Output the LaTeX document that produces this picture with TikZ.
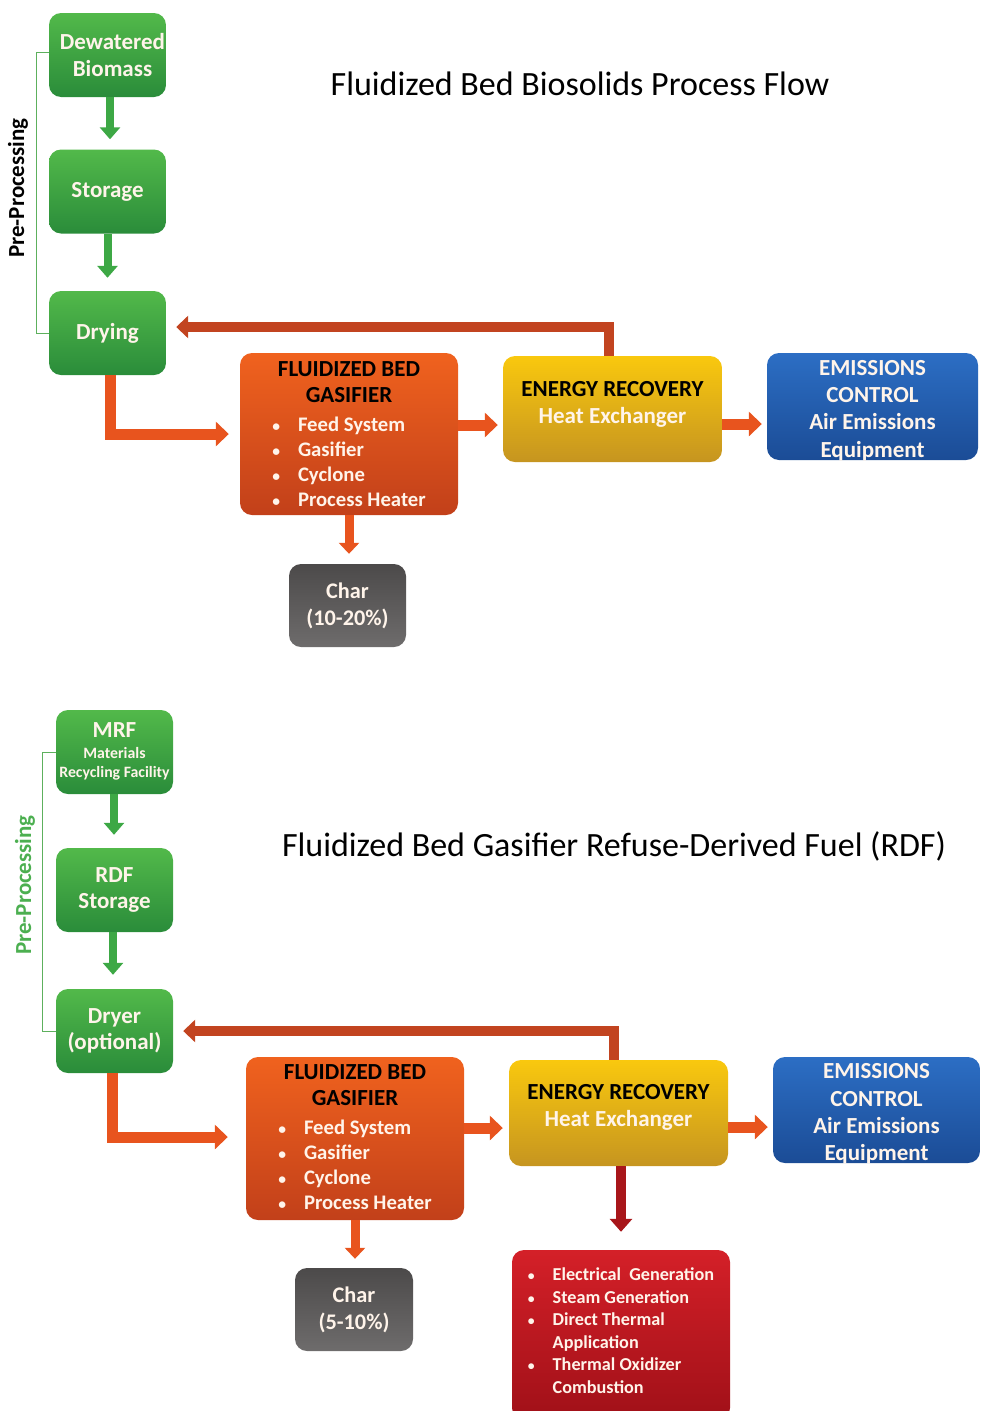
\documentclass[tikz,border=0pt]{standalone}
\usepackage{fontspec}
\setmainfont{Carlito}
\usetikzlibrary{arrows.meta}
\definecolor{gTop}{HTML}{52B94A}
\definecolor{gBot}{HTML}{2A8C3A}
\definecolor{oTop}{HTML}{F0621E}
\definecolor{oBot}{HTML}{C2401A}
\definecolor{yTop}{HTML}{F9C80E}
\definecolor{yBot}{HTML}{C69520}
\definecolor{bTop}{HTML}{2C6EC4}
\definecolor{bBot}{HTML}{1B4C96}
\definecolor{cTop}{HTML}{4C4A4A}
\definecolor{cBot}{HTML}{6E6C6C}
\definecolor{rTop}{HTML}{D42028}
\definecolor{rBot}{HTML}{A01018}
\definecolor{arrO}{HTML}{E8541E}
\definecolor{arrF}{HTML}{C24420}
\definecolor{arrR}{HTML}{A8161A}
\definecolor{arrG}{HTML}{3DA845}
\definecolor{brk}{HTML}{5DB05D}
\definecolor{cream}{HTML}{FFF4EA}
\definecolor{ppGreen}{HTML}{4CAF50}
\newcommand\bul{\scalebox{0.75}{\textbullet}}
\begin{document}
\begin{tikzpicture}[x=1pt,y=-1pt,
  boxtext/.style={inner sep=0pt, align=center, text=cream, font=\bfseries\fontsize{23}{26.5}\selectfont},
  box/.style={boxtext, rounded corners=12pt},
  gbox/.style={box, top color=gTop, bottom color=gBot, minimum width=117pt, minimum height=84pt},
  obox/.style={box, top color=oTop, bottom color=oBot, minimum width=218pt, minimum height=162pt},
  ybox/.style={box, top color=yTop, bottom color=yBot, minimum width=219pt, minimum height=106pt},
  bbox/.style={box, top color=bTop, bottom color=bBot, minimum height=107pt},
  emtext/.style={boxtext, font=\bfseries\fontsize{23}{27.4}\selectfont},
  cbox/.style={box, top color=cTop, bottom color=cBot, minimum width=117pt, minimum height=83pt, font=\bfseries\fontsize{22.3}{27}\selectfont},
  rbox/.style={box, top color=rTop, bottom color=rBot, minimum width=218pt, minimum height=170pt},
  gastext/.style={boxtext, anchor=north, font=\bfseries\fontsize{23}{26}\selectfont},
  redtext/.style={boxtext, font=\bfseries\fontsize{18.2}{22.6}\selectfont},
  oarrow/.style={draw=arrO, line width=11pt, line join=miter, -{Triangle[width=24pt,length=13pt]}},
  farrow/.style={draw=arrF, line width=10pt, line join=miter, -{Triangle[width=22pt,length=12pt]}},
  rarrow/.style={draw=arrR, line width=10pt, -{Triangle[width=22pt,length=13pt]}},
  carrow/.style={draw=arrO, line width=9pt, -{Triangle[width=20pt,length=11pt]}},
  garrow/.style={draw=arrG, line width=8pt, -{Triangle[width=20pt,length=12pt]}},
  bracket/.style={draw=brk, line width=1pt},
  pplabel/.style={rotate=90, inner sep=0pt, font=\bfseries\fontsize{23}{26}\selectfont},
  titletext/.style={inner sep=0pt, font=\fontsize{34}{40}\selectfont}
]
\useasboundingbox (0,0) rectangle (980,1411);

% ================= TOP DIAGRAM =================
\node[titletext] (title1) at (580,84) {Fluidized Bed Biosolids Process Flow};

\node[gbox] (dew1) at (107.5,55) {\hspace*{10pt}Dewatered\\\hspace*{10pt}Biomass};
\node[gbox] (sto1) at (107.5,191.5) {Storage};
\node[gbox] (dry1) at (107.5,333) {Drying};

\node[obox] (gas1) at (349,434) {};
\node[gastext] (gas1t) at (349,361.5) {\textcolor{black}{FLUIDIZED BED}\\\textcolor{black}{GASIFIER}\\[3pt]{\fontsize{20.7}{25}\selectfont\begin{tabular}[t]{@{}l@{\hspace{18pt}}l@{}}\bul & Feed System\\ \bul & Gasifier\\ \bul & Cyclone\\ \bul & Process Heater\end{tabular}}};

\node[ybox] (er1) at (612.5,409) {};
\node[boxtext] (er1t) at (612.5,404.5) {\textcolor{black}{ENERGY RECOVERY}\\Heat Exchanger};

\node[bbox, minimum width=211pt] (em1) at (872.5,406.5) {};
\node[emtext] (em1t) at (872.5,410.5) {EMISSIONS\\CONTROL\\Air Emissions\\Equipment};

\node[cbox] (char1) at (347.5,605.5) {Char\\(10-20\%)};

\draw[bracket] ([yshift=3pt]dew1.west) -- ++(-12,0) |- (dry1.west);
\node[pplabel] (pp1) at (18,188) {Pre-Processing};

\draw[garrow, shorten >=10pt] ([xshift=2.5pt]dew1.south) -- ([xshift=2.5pt]sto1.north);
\draw[garrow, shorten >=13pt] (sto1.south) -- (dry1.north);
\draw[oarrow, shorten >=11pt] ([xshift=3pt]dry1.south) |- (gas1.west);
\draw[oarrow, shorten >=5pt] ([yshift=9pt]gas1.east) -- ([yshift=9pt]gas1.east -| er1.west);
\draw[oarrow, shorten >=5pt] ([yshift=-15pt]er1.east) -- ([yshift=-15pt]er1.east -| em1.west);
\draw[farrow, shorten >=10pt] ([xshift=-3.5pt]er1.north) |- ([yshift=6pt]dry1.east);
\draw[carrow, shorten >=10pt] (gas1.south) -- (gas1.south |- char1.north);

% ================= BOTTOM DIAGRAM =================
\node[titletext] (title2) at (614,846) {Fluidized Bed Gasifier Refuse-Derived Fuel (RDF)};

\node[gbox] (mrf2) at (114.5,752) {\begin{tabular}{@{}c@{}}MRF\\[-5pt]{\fontsize{15.8}{17}\selectfont Materials}\\[-8pt]{\fontsize{15.8}{17}\selectfont Recycling Facility}\end{tabular}};
\node[gbox] (rdf2) at (114.5,890) {RDF\\Storage};
\node[gbox] (dry2) at (114.5,1031) {Dryer\\(optional)};

\node[obox, minimum height=163pt] (gas2) at (355,1138.5) {};
\node[gastext] (gas2t) at (355,1064.5) {\textcolor{black}{FLUIDIZED BED}\\\textcolor{black}{GASIFIER}\\[3pt]{\fontsize{20.7}{25}\selectfont\begin{tabular}[t]{@{}l@{\hspace{18pt}}l@{}}\bul & Feed System\\ \bul & Gasifier\\ \bul & Cyclone\\ \bul & Process Heater\end{tabular}}};

\node[ybox] (er2) at (618.5,1113) {};
\node[boxtext] (er2t) at (618.5,1107.5) {\textcolor{black}{ENERGY RECOVERY}\\Heat Exchanger};

\node[bbox, minimum width=207pt, minimum height=106pt] (em2) at (876.5,1110) {};
\node[emtext] (em2t) at (876.5,1114) {EMISSIONS\\CONTROL\\Air Emissions\\Equipment};

\node[cbox, minimum width=118pt] (char2) at (354,1309.5) {Char\\(5-10\%)};

\node[rbox] (out2) at (621,1335) {};
\node[redtext] (out2t) at (621,1332.5) {\begin{tabular}{@{}l@{\hspace{18pt}}l@{}}\bul & Electrical\ \ Generation\\ \bul & Steam Generation\\ \bul & Direct Thermal\\ & Application\\ \bul & Thermal Oxidizer\\ & Combustion\end{tabular}};

\draw[bracket] (mrf2.west) -- ++(-13,0) |- (dry2.west);
\node[pplabel, text=ppGreen] (pp2) at (25,885) {Pre-Processing};

\draw[garrow, shorten >=13pt] ([xshift=-0.5pt]mrf2.south) -- ([xshift=-0.5pt]rdf2.north);
\draw[garrow, shorten >=14pt] ([xshift=-1.5pt]rdf2.south) -- ([xshift=-1.5pt]dry2.north);
\draw[oarrow, shorten >=18pt] ([xshift=-2.5pt]dry2.south) |- ([yshift=1.5pt]gas2.west);
\draw[oarrow, shorten >=6pt] ([yshift=10.5pt]gas2.east) -- ([yshift=10.5pt]gas2.east -| er2.west);
\draw[oarrow, shorten >=5pt] ([yshift=-14pt]er2.east) -- ([yshift=-14pt]er2.east -| em2.west);
\draw[farrow, shorten >=10pt] ([xshift=-4.5pt]er2.north) |- (dry2.east);
\draw[rarrow, shorten >=18pt] ([xshift=2.5pt]er2.south) -- ([xshift=2.5pt]er2.south |- out2.north);
\draw[carrow, shorten >=9pt] (gas2.south) -- (gas2.south |- char2.north);
\end{tikzpicture}
\end{document}
